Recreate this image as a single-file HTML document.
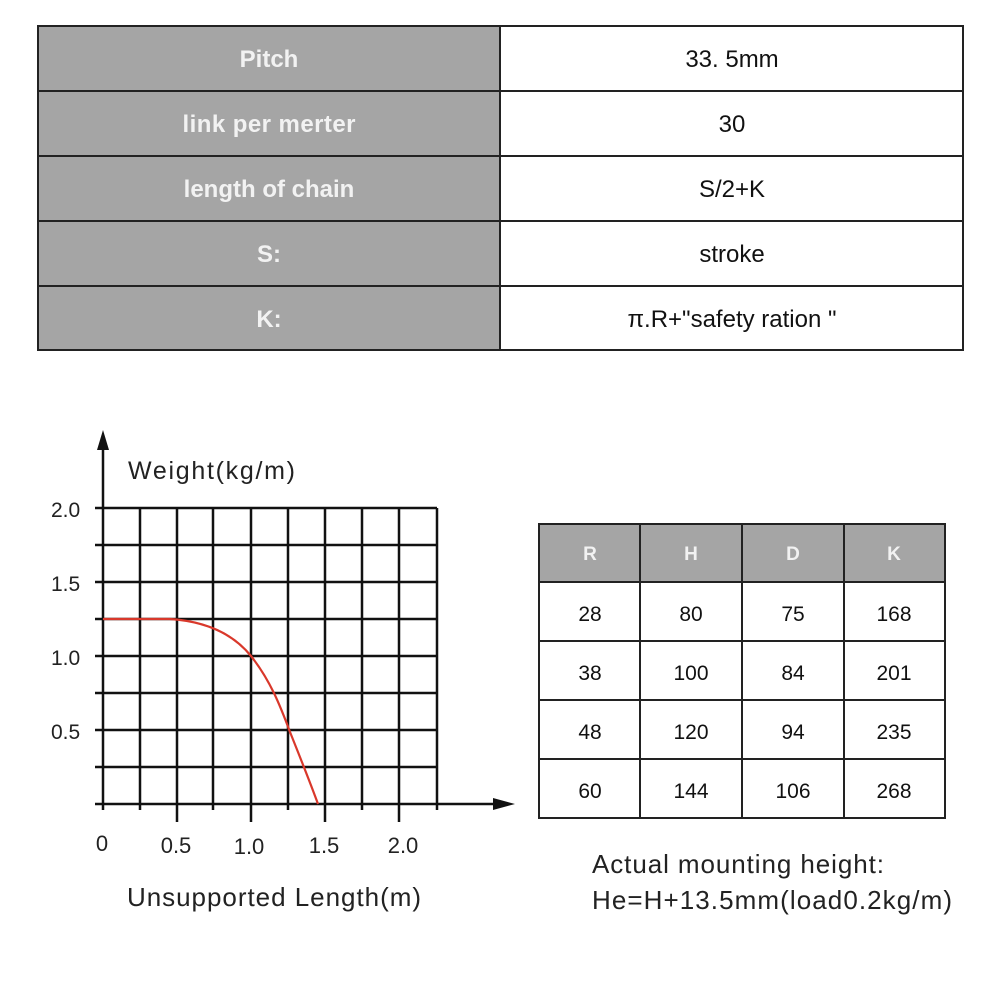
<!DOCTYPE html>
<html><head><meta charset="utf-8"><style>html,body{margin:0;padding:0;background:#fff}svg{display:block}</style></head>
<body>
<svg width="1000" height="987" viewBox="0 0 1000 987" xmlns="http://www.w3.org/2000/svg" font-family="Liberation Sans, Arial, sans-serif">
<g>
<rect x="38" y="26" width="462" height="324" fill="#a5a5a5"/>
<g stroke="#222" stroke-width="2" fill="none">
<rect x="38" y="26" width="925" height="324"/>
<line x1="500" y1="26" x2="500" y2="350"/>
<line x1="38" y1="91" x2="963" y2="91"/>
<line x1="38" y1="156" x2="963" y2="156"/>
<line x1="38" y1="221" x2="963" y2="221"/>
<line x1="38" y1="286" x2="963" y2="286"/>
</g>
<g fill="#f2f2f2" font-size="24" font-weight="bold" text-anchor="middle">
<text x="269" y="67">Pitch</text>
<text x="269" y="132" textLength="173">link per merter</text>
<text x="269" y="197">length of chain</text>
<text x="269" y="262">S:</text>
<text x="269" y="327">K:</text>
</g>
<g fill="#111" font-size="24" text-anchor="middle">
<text x="732" y="67">33. 5mm</text>
<text x="732" y="132">30</text>
<text x="732" y="197">S/2+K</text>
<text x="732" y="262">stroke</text>
<text x="732" y="327">π.R+"safety ration "</text>
</g>
</g>
<g stroke="#111" stroke-width="2.5">
<line x1="103" y1="508" x2="437" y2="508"/>
<line x1="95" y1="545" x2="437" y2="545"/>
<line x1="95" y1="582" x2="437" y2="582"/>
<line x1="95" y1="619" x2="437" y2="619"/>
<line x1="95" y1="656" x2="437" y2="656"/>
<line x1="95" y1="693" x2="437" y2="693"/>
<line x1="95" y1="730" x2="437" y2="730"/>
<line x1="95" y1="767" x2="437" y2="767"/>
<line x1="95" y1="508" x2="103" y2="508"/>
<line x1="140" y1="508" x2="140" y2="810"/>
<line x1="177" y1="508" x2="177" y2="822"/>
<line x1="213" y1="508" x2="213" y2="810"/>
<line x1="251" y1="508" x2="251" y2="822"/>
<line x1="288" y1="508" x2="288" y2="810"/>
<line x1="325" y1="508" x2="325" y2="822"/>
<line x1="362" y1="508" x2="362" y2="810"/>
<line x1="399" y1="508" x2="399" y2="822"/>
<line x1="437" y1="508" x2="437" y2="810"/>
<line x1="103" y1="445" x2="103" y2="810"/>
<line x1="95" y1="804" x2="500" y2="804"/>
</g>
<polygon points="103,430 97,450 109,450" fill="#111"/>
<polygon points="515,804 493,798 493,810" fill="#111"/>
<path d="M103,619 L170,619 C200,621 230,630 251,656 C270,680 280,705 290,732 C300,757 310,782 318,804" fill="none" stroke="#d9382b" stroke-width="2.2"/>
<g fill="#222" font-size="21">
<text x="128" y="479" font-size="25" textLength="167">Weight(kg/m)</text>
<text x="51" y="517">2.0</text>
<text x="51" y="591">1.5</text>
<text x="51" y="665">1.0</text>
<text x="51" y="739">0.5</text>
<g text-anchor="middle" font-size="22">
<text x="102" y="851">0</text>
<text x="176" y="853">0.5</text>
<text x="249" y="854">1.0</text>
<text x="324" y="853">1.5</text>
<text x="403" y="853">2.0</text>
</g>
<text x="127" y="906" font-size="26" textLength="294">Unsupported Length(m)</text>
</g>
<rect x="539" y="524" width="406" height="58" fill="#a5a5a5"/>
<g stroke="#222" stroke-width="2" fill="none">
<rect x="539" y="524" width="406" height="294"/>
<line x1="640" y1="524" x2="640" y2="818"/>
<line x1="742" y1="524" x2="742" y2="818"/>
<line x1="844" y1="524" x2="844" y2="818"/>
<line x1="539" y1="582" x2="945" y2="582"/>
<line x1="539" y1="641" x2="945" y2="641"/>
<line x1="539" y1="700" x2="945" y2="700"/>
<line x1="539" y1="759" x2="945" y2="759"/>
</g>
<g fill="#f2f2f2" font-size="19" font-weight="bold" text-anchor="middle">
<text x="590" y="560">R</text><text x="691" y="560">H</text><text x="793" y="560">D</text><text x="894" y="560">K</text>
</g>
<g fill="#111" font-size="21" text-anchor="middle">
<text x="590" y="621">28</text><text x="691" y="621">80</text><text x="793" y="621">75</text><text x="894" y="621">168</text>
<text x="590" y="680">38</text><text x="691" y="680">100</text><text x="793" y="680">84</text><text x="894" y="680">201</text>
<text x="590" y="739">48</text><text x="691" y="739">120</text><text x="793" y="739">94</text><text x="894" y="739">235</text>
<text x="590" y="798">60</text><text x="691" y="798">144</text><text x="793" y="798">106</text><text x="894" y="798">268</text>
</g>
<g fill="#222" font-size="26">
<text x="592" y="873" textLength="292">Actual mounting height:</text>
<text x="592" y="909" textLength="360">He=H+13.5mm(load0.2kg/m)</text>
</g>
</svg>
</body></html>
